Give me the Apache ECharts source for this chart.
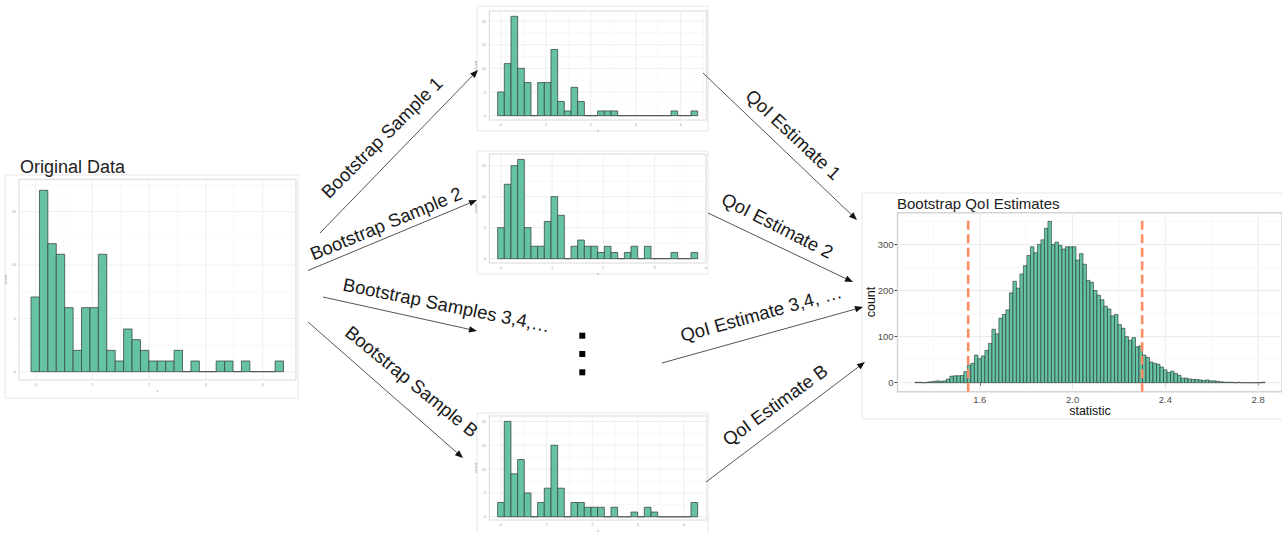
<!DOCTYPE html>
<html><head><meta charset="utf-8">
<script src="https://cdn.jsdelivr.net/npm/echarts@6/dist/echarts.min.js"></script>
<style>html,body{margin:0;padding:0;background:#fff}#c{width:1282px;height:533px}</style>
</head><body><div id="c"></div>
<script>
// ---------------- DATA ----------------
const origBinStart = -0.082, origBinWidth = 0.1484;
const origCounts = [7,17,12,11,6,2,6,6,11,2,1,4,3,2,1,1,1,2,0,1,0,0,1,1,0,1,0,0,0,1];
const s1BinStart = -0.074, s1BinWidth = 0.1484;
const sample1Counts = [5,11,21,10,7,0,7,7,14,3,1,6,3,0,0,1,1,1,0,0,0,0,0,0,0,0,1,0,0,1];
const s2BinStart = -0.065, s2BinWidth = 0.1303;
const sample2Counts = [5,12,15,16,5,2,2,6,10,7,0,2,3,2,2,1,2,1,0,1,2,0,2,0,0,0,1,0,0,1];
const sBBinStart = -0.073, sBBinWidth = 0.146;
const sampleBCounts = [3,20,9,12,5,0,3,6,15,6,0,3,3,2,2,2,0,2,0,0,1,0,2,1,0,0,0,0,0,3];
const estBinStart = 1.32, estBinWidth = 0.0151;
const estCounts = [1,1,0,1,2, 3,4,3,4,8, 14,15,15,16,24, 38,42,60,52,58,
  70,85,116,106,140, 148,158,195,220,205, 236,254,276,295,282, 300,310,335,350,300,
  305,298,290,295,295, 295,266,280,257,222, 218,200,190,180,166, 160,145,148,126,118,
  100,92,98,78,80, 60,55,45,42,40, 34,28,22,25,20, 16,10,10,8,7,
  7,6,5,6,4, 4,3,2,1,1, 1,0,1,0,0, 0,0,0,0,1];
const ciBounds = [1.55, 2.30];

const smallXTicks = [0,1,2,3,4];
const smallXMinor = [0.5,1.5,2.5,3.5,4.5];
const yTicks15 = [0,5,10,15];
const yTicks20 = [0,5,10,15,20];
const yMinor = [2.5,7.5,12.5,17.5];
const estXTicks = [1.6,2.0,2.4,2.8];
const estXMinor = [1.4,1.8,2.2,2.6];
const estYTicks = [0,100,200,300];
const estYMinor = [50,150,250,350];

const titleOriginal = 'Original Data';
const titleEstimates = 'Bootstrap QoI Estimates';
const sampleLabels = ['Bootstrap Sample 1','Bootstrap Sample 2','Bootstrap Samples 3,4,\u2026','Bootstrap Sample B'];
const estimateLabels = ['QoI Estimate 1','QoI Estimate 2','QoI Estimate 3,4, \u2026','QoI Estimate B'];

// ---------------- LAYOUT ----------------
const FONT = 'Liberation Sans, Arial, Helvetica, sans-serif';
const panels = [
  {grid:{left:19, top:179.3, width:277, height:200.7}, x:[-0.294,4.59], y:[-0.78,18.03],
   start:origBinStart, w:origBinWidth, counts:origCounts, xT:smallXTicks, xm:smallXMinor, yT:yTicks15, ym:yMinor, small:true},
  {grid:{left:489.3, top:11, width:217.4, height:109}, x:[-0.26,4.579], y:[-0.915,22.12],
   start:s1BinStart, w:s1BinWidth, counts:sample1Counts, xT:smallXTicks, xm:smallXMinor, yT:yTicks20, ym:yMinor, small:true},
  {grid:{left:489.3, top:154, width:216.7, height:109}, x:[-0.228,4.006], y:[-0.7,16.88],
   start:s2BinStart, w:s2BinWidth, counts:sample2Counts, xT:smallXTicks, xm:[0.5,1.5,2.5,3.5], yT:yTicks15, ym:[2.5,7.5,12.5], small:true},
  {grid:{left:489.3, top:416, width:217.4, height:109}, x:[-0.255,4.505], y:[-0.67,21.13],
   start:sBBinStart, w:sBBinWidth, counts:sampleBCounts, xT:smallXTicks, xm:smallXMinor, yT:yTicks20, ym:yMinor, small:true},
  {grid:{left:897.5, top:212.7, width:385.5, height:179}, x:[1.2452,2.903], y:[-19.5,368.8],
   start:estBinStart, w:estBinWidth, counts:estCounts, xT:estXTicks, xm:estXMinor, yT:estYTicks, ym:estYMinor, small:false}
];

const grids = [], xAxes = [], yAxes = [], series = [];
panels.forEach((p, i) => {
  grids.push(Object.assign({show:true, backgroundColor:'#fff', borderColor: p.small ? '#d8d8d8' : '#d4d4d4', borderWidth: p.small ? 1 : 1.5, containLabel:false}, p.grid));
  const lblSmall = {fontSize:4, color:'#a0a0a0', fontFamily:FONT};
  const lblBig = {fontSize:9.5, color:'#4d4d4d', fontFamily:FONT};
  xAxes.push({type:'value', gridIndex:i, min:p.x[0], max:p.x[1],
    axisLine:{show:false}, splitLine:{show:false},
    axisTick: p.small ? {show:false} : {show:true, customValues:p.xT, length:3, lineStyle:{color:'#444', width:1}},
    axisLabel: Object.assign({show:true, customValues:p.xT, margin: p.small ? 2 : 2.5,
      formatter: v => p.small ? String(v) : Number(v).toFixed(1)}, p.small ? lblSmall : lblBig),
    name: p.small ? 'x' : '', nameLocation:'middle', nameGap: p.small ? 8 : 0,
    nameTextStyle:{fontSize:4, color:'#999', fontFamily:FONT}
  });
  yAxes.push({type:'value', gridIndex:i, min:p.y[0], max:p.y[1],
    axisLine:{show:false}, splitLine:{show:false},
    axisTick: p.small ? {show:false} : {show:true, customValues:p.yT, length:3, lineStyle:{color:'#444', width:1}},
    axisLabel: Object.assign({show:true, customValues:p.yT, margin: p.small ? 3 : 4}, p.small ? lblSmall : lblBig),
    name: p.small ? 'count' : '', nameLocation:'middle', nameGap: p.small ? 9 : 0, nameRotate:90,
    nameTextStyle:{fontSize:4, color:'#999', fontFamily:FONT}
  });
  // gridlines
  const gData = [];
  p.xT.forEach(v => gData.push([v,0,1]));
  p.xm.forEach(v => gData.push([v,0,0]));
  p.yT.forEach(v => gData.push([v,1,1]));
  p.ym.forEach(v => gData.push([v,1,0]));
  series.push({type:'custom', xAxisIndex:i, yAxisIndex:i, z:1, silent:true, data:gData,
    encode:{x:0, y:1},
    renderItem:(params, api) => {
      const v = api.value(0), o = api.value(1), major = api.value(2);
      const cs = params.coordSys;
      const style = {stroke: major ? '#ebebeb' : '#f4f4f4', lineWidth: major ? (p.small ? 0.8 : 1) : 0.6, fill:null};
      if (o === 0) {
        const x = api.coord([v, p.y[0]])[0];
        return {type:'line', shape:{x1:x, y1:cs.y, x2:x, y2:cs.y + cs.height}, style};
      } else {
        const y = api.coord([p.x[0], v])[1];
        return {type:'line', shape:{x1:cs.x, y1:y, x2:cs.x + cs.width, y2:y}, style};
      }
    }
  });
  // histogram bars
  series.push({type:'custom', xAxisIndex:i, yAxisIndex:i, z:2, silent:true,
    data: p.counts.map((c, k) => [p.start + k * p.w, p.start + (k + 1) * p.w, c]),
    encode:{x:[0,1], y:2},
    renderItem:(params, api) => {
      const a = api.coord([api.value(0), 0]);
      const b = api.coord([api.value(1), api.value(2)]);
      return {type:'rect', shape:{x:a[0], y:b[1], width:b[0]-a[0], height:a[1]-b[1]},
        style:{fill:'#66c2a5', stroke: p.small ? '#3b4a44' : '#26302c', lineWidth: p.small ? 0.8 : 0.6}};
    }
  });
});
// CI dashed lines on estimate panel
series.push({type:'custom', xAxisIndex:4, yAxisIndex:4, z:3, silent:true,
  data: ciBounds.map(v => [v, 0]), encode:{x:0, y:1},
  renderItem:(params, api) => {
    const cs = params.coordSys;
    const x = api.coord([api.value(0), 0])[0];
    return {type:'line', shape:{x1:x, y1:cs.y + cs.height, x2:x, y2:cs.y + 4},
      style:{stroke:'#fc8d62', lineWidth:2.6, lineDash:[9,4.5], fill:null}};
  }
});

// ---------------- GRAPHICS (frames, arrows, labels) ----------------
const graphic = [];
const frames = [[5,175,293,223],[477,6,231,125],[477,151,231,123],[477,413,231,122],[862,193,421,226]];
frames.forEach(f => graphic.push({type:'rect', shape:{x:f[0], y:f[1], width:f[2], height:f[3]},
  style:{fill:null, stroke:'#e6e6e6', lineWidth:1}, z:0}));

const arrowLines = [[320,233,478,70],[308,270.5,477,200],[323,297,477,331],[308,322,463,458],
                    [703,73,857,220],[708,213,853,282],[662,363,863,307],[706,482,865,362]];
arrowLines.forEach(a => {
  const [x1,y1,x2,y2] = a;
  const dx = x2-x1, dy = y2-y1, L = Math.hypot(dx,dy), ux = dx/L, uy = dy/L;
  const hl = 8, hw = 3.2;
  const bx = x2 - ux*hl, by = y2 - uy*hl;
  graphic.push({type:'line', shape:{x1, y1, x2:bx, y2:by}, style:{stroke:'#555', lineWidth:1}, z:5});
  graphic.push({type:'polygon', shape:{points:[[x2,y2],[bx - uy*hw, by + ux*hw],[bx + uy*hw, by - ux*hw]]},
    style:{fill:'#111'}, z:5});
});

const labelPos = [[381.7,137.5,45],[386,223.5,22.5],[446.7,305,-11.5],[411.7,381.5,-39],
                  [793.3,134.5,-43],[777.5,225.5,-27],[761,313.5,15.5],[775,405,36]];
const allLabels = sampleLabels.concat(estimateLabels);
allLabels.forEach((t, i) => {
  const [x,y,deg] = labelPos[i];
  graphic.push({type:'text', x, y, rotation: deg*Math.PI/180, z:6,
    style:{text:t, fontSize:18.5, fontFamily:FONT, fill:'#1a1a1a', align:'center', verticalAlign:'middle'}});
});

[335.7,354,372.3].forEach(y => graphic.push({type:'rect', shape:{x:579.3, y:y-3, width:6, height:6}, style:{fill:'#000'}, z:6}));

graphic.push({type:'text', x:20, y:166.5, z:6, style:{text:titleOriginal, fontSize:18, fontFamily:FONT, fill:'#222', align:'left', verticalAlign:'middle'}});
graphic.push({type:'text', x:897, y:203.3, z:6, style:{text:titleEstimates, fontSize:15, fontFamily:FONT, fill:'#222', align:'left', verticalAlign:'middle'}});
graphic.push({type:'text', x:871, y:302, rotation:Math.PI/2, z:6, style:{text:'count', fontSize:12.5, fontFamily:FONT, fill:'#111', align:'center', verticalAlign:'middle'}});
graphic.push({type:'text', x:1090, y:411, z:6, style:{text:'statistic', fontSize:12.5, fontFamily:FONT, fill:'#111', align:'center', verticalAlign:'middle'}});

const chart = echarts.init(document.getElementById('c'), null, {renderer:'svg', width:1282, height:533});
chart.setOption({
  backgroundColor:'#fff',
  animation:false,
  textStyle:{fontFamily:FONT},
  grid:grids, xAxis:xAxes, yAxis:yAxes, series, graphic
});
</script></body></html>
